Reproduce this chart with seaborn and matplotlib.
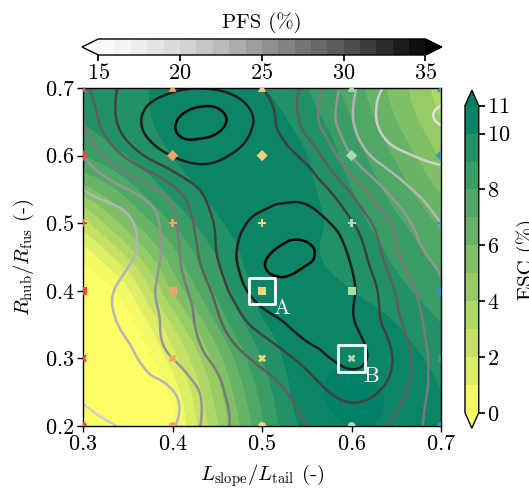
import numpy as np
import pandas as pd
import matplotlib
matplotlib.use("Agg")
import matplotlib.pyplot as plt
import matplotlib.tri as mtri
from matplotlib.colors import BoundaryNorm
import seaborn as sns

# Response-surface sample grid (slope/tail length ratio, hub/fuselage radius ratio)
x_ratio = [0.30, 0.35, 0.40, 0.45, 0.50, 0.55, 0.60, 0.65, 0.70]
y_ratio = [0.20, 0.25, 0.30, 0.35, 0.40, 0.45, 0.50, 0.55, 0.60, 0.65, 0.70]

# ESC (%) on the grid, one row per y_ratio value
esc_grid = [
    [-4.0, -3.0, -0.2, 3.8, 7.8, 10.3, 11.0, 10.8, 10.2],
    [-4.0, -2.5, 0.3, 4.5, 8.3, 10.6, 11.2, 10.8, 10.0],
    [-3.0, -1.5, 1.5, 5.5, 9.0, 10.6, 10.9, 10.5, 9.6],
    [-2.0, -0.5, 3.0, 7.0, 9.8, 10.6, 10.6, 10.0, 9.0],
    [-1.0, 0.8, 5.0, 8.2, 10.4, 10.6, 10.0, 9.3, 8.3],
    [0.2, 3.0, 6.5, 9.0, 10.5, 10.2, 9.6, 8.8, 7.6],
    [2.5, 5.5, 8.0, 9.8, 10.6, 10.3, 9.4, 8.2, 6.8],
    [5.5, 7.5, 9.3, 10.3, 10.6, 10.2, 9.0, 7.5, 5.8],
    [8.0, 9.0, 10.0, 10.6, 10.6, 10.0, 8.5, 6.8, 4.8],
    [9.0, 9.6, 10.3, 10.7, 10.5, 9.5, 8.0, 6.0, 4.0],
    [9.5, 9.8, 10.2, 10.3, 10.0, 9.0, 7.5, 5.5, 3.5],
]

# PFS (%) on the same grid
pfs_grid = [
    [20.2, 21.2, 22.8, 26.3, 28.0, 29.0, 30.0, 28.5, 26.0],
    [21.3, 22.0, 22.9, 26.5, 28.3, 29.9, 31.6, 29.8, 25.6],
    [21.5, 22.6, 25.0, 27.5, 29.5, 31.8, 33.4, 30.6, 25.4],
    [21.7, 23.4, 25.7, 28.6, 31.8, 33.6, 33.2, 29.6, 25.3],
    [21.8, 23.6, 26.0, 29.7, 34.0, 34.0, 33.2, 28.8, 25.2],
    [22.0, 22.7, 26.2, 31.0, 34.8, 35.2, 32.7, 27.4, 24.4],
    [22.3, 22.7, 26.5, 31.3, 33.5, 34.0, 31.2, 26.3, 23.0],
    [23.0, 25.0, 28.5, 32.0, 32.4, 32.3, 28.5, 24.0, 21.8],
    [25.0, 29.5, 33.1, 33.4, 32.0, 30.4, 25.0, 21.5, 20.6],
    [27.0, 32.0, 34.8, 35.4, 32.2, 28.3, 23.2, 20.0, 18.9],
    [28.5, 31.5, 32.6, 32.7, 31.0, 28.5, 23.5, 20.5, 19.8],
]

# Design points that were evaluated
design_x = [0.3, 0.4, 0.5, 0.6, 0.7]
design_y = [0.2, 0.3, 0.4, 0.5, 0.6, 0.7]
design_colors = ["#d7504b", "#f2a468", "#f3d67c", "#a9dcaa", "#3d8fbf"]
design_markers = ["o", "X", "s", "P", "D", "^"]

# Highlighted configurations
picked_x = [0.5, 0.6]
picked_y = [0.4, 0.3]
picked_names = ["A", "B"]

esc_levels = np.arange(0, 12, 1)
esc_ticks = [0, 2, 4, 6, 8, 10, 11]
pfs_levels = np.arange(15, 36, 1)
pfs_line_levels = np.arange(15, 36, 2)
pfs_ticks = [15, 20, 25, 30, 35]

sns.set_theme(style="ticks")
plt.rcParams.update({
    "font.family": ["cmr10", "DejaVu Serif"],
    "mathtext.fontset": "cm",
    "axes.unicode_minus": False,
    "axes.formatter.use_mathtext": True,
    "axes.edgecolor": "black",
    "xtick.color": "black",
    "ytick.color": "black",
    "text.color": "black",
    "axes.labelcolor": "black",
})

fig = plt.figure(figsize=(5.29, 4.91), dpi=100)
ax = fig.add_axes([0.157, 0.1324, 0.677, 0.6884])

X, Y = np.meshgrid(x_ratio, y_ratio)
tri = mtri.Triangulation(X.ravel(), Y.ravel())
refiner = mtri.UniformTriRefiner(tri)
tri_fine, esc_fine = refiner.refine_field(np.asarray(esc_grid).ravel(), subdiv=4)
_, pfs_fine = refiner.refine_field(np.asarray(pfs_grid).ravel(), subdiv=4)

cf = ax.tricontourf(tri_fine, esc_fine, levels=esc_levels, cmap="summer_r",
                    extend="both", zorder=1)
ax.tricontour(tri_fine, pfs_fine, levels=pfs_line_levels, cmap="Greys",
              vmin=15, vmax=35, linewidths=1.8, zorder=2)

pts = pd.DataFrame(
    [(f"{xv:.1f}", f"{yv:.1f}", xv, yv) for yv in design_y for xv in design_x],
    columns=["xcat", "ycat", "L", "R"],
)
sns.scatterplot(
    data=pts, x="L", y="R", hue="xcat", style="ycat",
    palette=dict(zip([f"{v:.1f}" for v in design_x], design_colors)),
    markers=dict(zip([f"{v:.1f}" for v in design_y], design_markers)),
    s=32, linewidth=0, legend=False, ax=ax, zorder=5,
)

ax.scatter(picked_x, picked_y, marker="s", s=19 ** 2, facecolors="none",
           edgecolors="white", linewidths=2, zorder=6)
for px, py, name in zip(picked_x, picked_y, picked_names):
    ax.text(px + 0.013, py - 0.012, name, color="white", fontsize=16,
            ha="left", va="top", zorder=7)

ax.set_xlim(0.3, 0.7)
ax.set_ylim(0.2, 0.7)
ax.set_xticks([0.3, 0.4, 0.5, 0.6, 0.7])
ax.set_yticks([0.2, 0.3, 0.4, 0.5, 0.6, 0.7])
ax.tick_params(labelsize=16, length=4, width=1, direction="out", pad=2)
ax.set_xlabel(r"$L_{\mathrm{slope}}/L_{\mathrm{tail}}$ (-)", fontsize=15, labelpad=6)
ax.set_ylabel(r"$R_{\mathrm{hub}}/R_{\mathrm{fus}}$ (-)", fontsize=15, labelpad=6)
for sp in ax.spines.values():
    sp.set_linewidth(1.0)
    sp.set_color("black")

# PFS colour bar on top
cax_top = fig.add_axes([0.155, 0.888, 0.680, 0.0326])
greys = plt.get_cmap("Greys")
sm = plt.cm.ScalarMappable(norm=BoundaryNorm(pfs_levels, greys.N, extend="both"), cmap=greys)
cb_top = fig.colorbar(sm, cax=cax_top, orientation="horizontal", extend="both",
                      ticks=pfs_ticks)
cb_top.ax.minorticks_off()
cb_top.ax.xaxis.set_ticks_position("bottom")
cb_top.ax.xaxis.set_label_position("top")
cb_top.set_label("PFS (%)", fontsize=15, labelpad=8)
cb_top.ax.tick_params(labelsize=16, length=4, pad=2)
cb_top.outline.set_linewidth(1.0)

# ESC colour bar on the right
cax_right = fig.add_axes([0.879, 0.128, 0.026, 0.688])
cb_right = fig.colorbar(cf, cax=cax_right, ticks=esc_ticks)
cb_right.ax.minorticks_off()
cb_right.set_label("ESC (%)", fontsize=15, labelpad=4)
cb_right.ax.tick_params(labelsize=16, length=4, pad=2)
cb_right.outline.set_linewidth(1.0)

fig.savefig("out.png", dpi=100)
